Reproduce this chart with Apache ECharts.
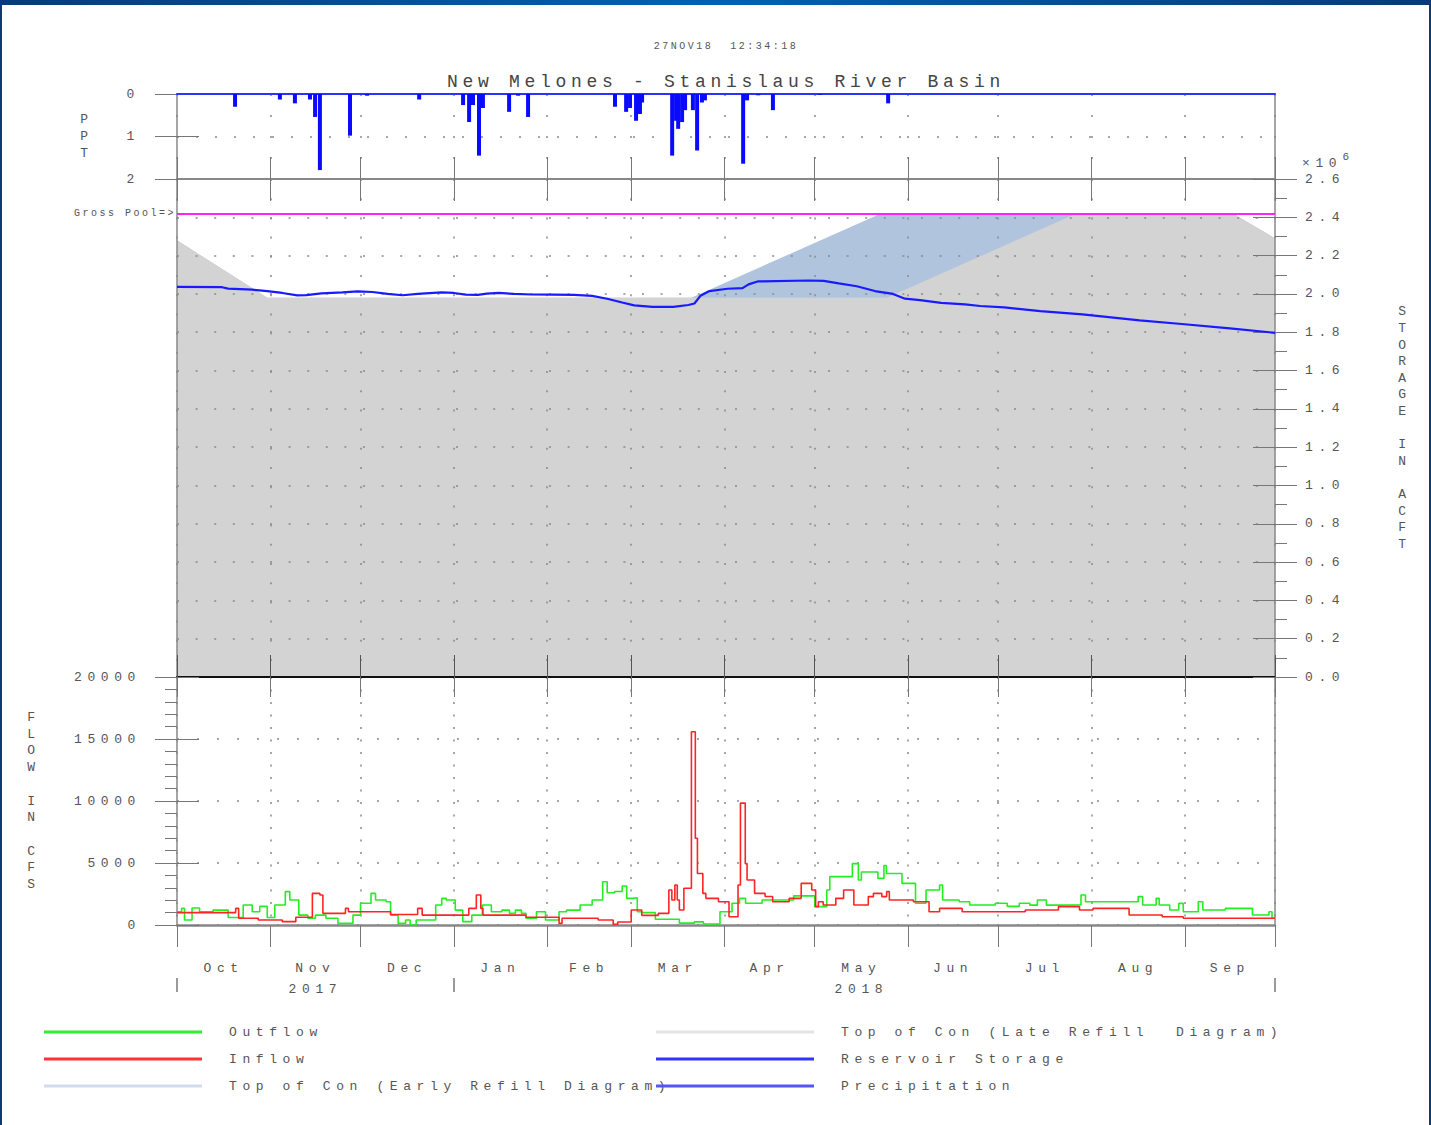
<!DOCTYPE html>
<html><head><meta charset="utf-8">
<script src="https://cdn.jsdelivr.net/npm/echarts@6/dist/echarts.min.js"></script>
<style>
html,body{margin:0;padding:0;background:#fff;}
#chart{position:absolute;left:0;top:0;width:1431px;height:1125px;}
#topbar{position:absolute;left:0;top:0;width:1431px;height:5px;background:linear-gradient(90deg,#0a3a78,#0062b4 50%,#0a3a78);}
#lb{position:absolute;left:0;top:0;width:2px;height:1125px;background:#0a3a78;}
#rb{position:absolute;right:0;top:0;width:2px;height:1125px;background:#0a3a78;}
</style></head><body>
<div id="chart"></div><div id="topbar"></div><div id="lb"></div><div id="rb"></div>
<script>
// ---- categories / ticks ----
const monthStarts = [0, 31, 61, 92, 123, 151, 182, 212, 243, 273, 304, 335, 365];
const monthNames = ['Oct', 'Nov', 'Dec', 'Jan', 'Feb', 'Mar', 'Apr', 'May', 'Jun', 'Jul', 'Aug', 'Sep'];
const monthMids = [15.5, 46, 76.5, 107.5, 137, 166.5, 197, 227.5, 258, 288.5, 319.5, 350];
const yearNames = { 'Nov': '2017', 'May': '2018' };
const yearTicks = [0, 92, 365];
const grossPool = 2420000;

// ---- series values: [day since 1 Oct 2017, value] ----
const storage = [[0,2037000],[15,2035000],[17,2028000],[25,2022000],[30,2015000],[35,2005000],[40,1992000],[43,1994000],[48,2003000],[55,2008000],[60,2013000],[65,2010000],[70,2000000],[75,1993000],[80,2000000],[88,2008000],[92,2005000],[96,1996000],[100,1995000],[103,2002000],[107,2005000],[112,2000000],[118,1997000],[125,1996000],[132,1995000],[138,1990000],[143,1975000],[148,1955000],[152,1940000],[158,1932000],[165,1932000],[170,1942000],[172,1950000],[174,1990000],[177,2015000],[183,2027000],[188,2030000],[190,2050000],[193,2065000],[210,2070000],[215,2068000],[220,2055000],[226,2040000],[232,2015000],[238,2000000],[242,1975000],[247,1968000],[254,1953000],[262,1945000],[267,1937000],[275,1930000],[287,1910000],[301,1893000],[320,1862000],[334,1843000],[350,1820000],[365,1797000]];
const earlyRefill = [[0,2280000],[30,1980000],[171,1980000],[234,2420000],[351,2420000],[365,2290000]];
const lateRefill = [[0,2280000],[30,1980000],[236,1980000],[299,2420000],[351,2420000],[365,2290000]];
const precip = [[19.3,0.30],[34.2,0.13],[39.2,0.22],[44.2,0.13],[45.9,0.54],[47.5,1.79],[57.5,0.98],[63.2,0.04],[80.5,0.13],[95.1,0.26],[97.1,0.66],[98.4,0.26],[100.4,1.45],[101.7,0.33],[110.4,0.42],[113.4,0.04],[116.7,0.54],[145.6,0.30],[149.3,0.42],[150.6,0.33],[152.6,0.63],[153.9,0.47],[154.6,0.2],[164.6,1.45],[165.9,0.63],[166.6,0.82],[167.9,0.66],[168.9,0.38],[171.5,0.38],[172.9,1.33],[174.5,0.2],[175.5,0.15],[188.2,1.64],[189.5,0.15],[193.2,0.03],[198.1,0.38],[213.8,0.02],[236.4,0.22]];
const outflow = [[0,1070],[1.5,1340],[2.5,400],[5,1370],[7.5,1070],[12,1200],[17,600],[22,1610],[25,1070],[27.5,1500],[30,600],[32.5,1610],[36,2690],[37.5,2020],[40.5,800],[43.5,540],[46,800],[49.5,540],[53.5,134],[58.5,800],[61,1750],[64.5,2550],[66,2020],[69.5,1880],[71,800],[73.5,134],[76,400],[77.5,0],[79.5,400],[86,1610],[88,2150],[89.5,2020],[92.5,1200],[95,270],[98,800],[101.5,1610],[104.5,1070],[108,1200],[110.5,940],[112.5,1200],[114.5,940],[116,540],[119.5,1070],[122.5,400],[127,1070],[129.5,1200],[134,1610],[138,2020],[141.5,3490],[143,2600],[145.5,2700],[148,3140],[149.5,2150],[151.5,2200],[153,1070],[154.5,1000],[159,460],[167,150],[172,250],[175,80],[180.5,1070],[184.5,1750],[187,2150],[189,1750],[194.5,2020],[205,2350],[212,1480],[216,2820],[217,3900],[224.5,4950],[226.5,3630],[227.5,4280],[233,3760],[235,4800],[235.8,4150],[241,3360],[245.5,1750],[249,2820],[253.5,3230],[254.5,2020],[260,1880],[263.5,1610],[272,1750],[276,1500],[280,1750],[283.5,1600],[286,2020],[289,1600],[291,1610],[300.5,2420],[302,1880],[319.5,2290],[321,1610],[325.5,2150],[326.5,1610],[330,1210],[333,1740],[334.5,1070],[339.5,1880],[341,1210],[348.5,1340],[357.5,810],[363,1070],[364,540],[365,540]];
const inflow = [[0,1000],[19.5,1340],[20.5,540],[27,400],[35,270],[39.5,620],[45,2550],[47.5,2420],[48.5,940],[56,1340],[57,1070],[71,850],[80,1340],[81.5,800],[97,1340],[99.5,2420],[101,1340],[101.7,800],[116,620],[127,134],[128,540],[140,400],[145,50],[146.5,240],[151,1210],[154.5,780],[160,940],[163.5,2820],[164.5,2020],[165.5,3230],[166.3,2020],[167,1210],[168.5,2960],[171,15580],[172.3,7000],[173,4150],[174.8,2550],[175.8,2150],[180,1880],[183.5,670],[186.5,3230],[187.3,9830],[188.9,4950],[189.5,3630],[192,2550],[195.5,2300],[198,1880],[203.5,2150],[207.5,3360],[211,2820],[212.3,1480],[213.2,1880],[214.8,1610],[219,2150],[221.6,2820],[225,1610],[229.8,2290],[231.5,2550],[234.3,2290],[235.9,2690],[236.8,2020],[244.8,1880],[250,1070],[253.5,1340],[261,1070],[282,1210],[293,1480],[300,1210],[304.5,1340],[316.5,810],[327.5,670],[334.5,540],[365,540]];

const FONT = 'Liberation Mono';
const TXT = '#555';
const AXZ = 2.5;
const dot = (gap) => ({ color: '#8a8a8a', width: 1.5, type: [2, gap] });
const baseX = (extra) => Object.assign({
  type: 'value', min: 0, max: 365, z: AXZ,
  axisLabel: { show: false }, axisTick: { show: false, customValues: monthStarts },
  splitLine: { show: false }, axisLine: { show: false, onZero: false }
}, extra);
const line = (color, width, extra) => Object.assign({ show: true, onZero: false, lineStyle: { color: color, width: width } }, extra || {});

const chart = echarts.init(document.getElementById('chart'), null, { renderer: 'svg' });
const option = {
  animation: false,
  backgroundColor: '#fff',
  textStyle: { fontFamily: FONT },
  title: [
    { text: '27NOV18  12:34:18', left: 721, top: 36, textAlign: 'center',
      textStyle: { fontSize: 10, color: TXT, fontWeight: 'normal', fontFamily: FONT } },
    { text: 'New Melones - Stanislaus River Basin', left: 721, top: 68, textAlign: 'center',
      textStyle: { fontSize: 18, color: '#444', fontWeight: 'normal', fontFamily: FONT } },
    { text: '{a|×10}{b|6}', left: 1297, top: 145,
      textStyle: { fontFamily: FONT, fontWeight: 'normal',
        rich: { a: { fontSize: 13, color: TXT, padding: [7, 0, 0, 0], fontFamily: FONT },
                b: { fontSize: 11, color: TXT, padding: [0, 0, 7, 17], fontFamily: FONT } } } }
  ],
  grid: [
    { left: 177, right: 156, top: 94, height: 85, outerBoundsMode: 'none' },
    { left: 177, right: 156, top: 179, height: 498, outerBoundsMode: 'none' },
    { left: 177, right: 156, top: 677, height: 248, outerBoundsMode: 'none' }
  ],
  xAxis: [
    baseX({ gridIndex: 0, position: 'bottom',
      axisLine: line('#888', 2),
      axisTick: { show: true, inside: true, length: 22, customValues: monthStarts, lineStyle: { color: '#777', width: 1 } },
      splitLine: { show: true, lineStyle: dot(19) } }),
    baseX({ gridIndex: 0, position: 'top', z: 3,
      axisLine: line('#3030ff', 2) }),
    baseX({ gridIndex: 1, position: 'top',
      axisTick: { show: true, inside: true, length: 22, customValues: monthStarts, lineStyle: { color: '#777', width: 1 } },
      splitLine: { show: true, lineStyle: dot(17.2) } }),
    baseX({ gridIndex: 1, position: 'bottom',
      axisLine: line('#111', 2),
      axisTick: { show: true, inside: true, length: 22, customValues: monthStarts, lineStyle: { color: '#555', width: 1 } } }),
    baseX({ gridIndex: 2, position: 'top',
      axisTick: { show: true, inside: true, length: 20, customValues: monthStarts, lineStyle: { color: '#777', width: 1 } } }),
    baseX({ gridIndex: 2, position: 'bottom',
      axisLine: line('#888', 2.5),
      axisTick: { show: true, inside: false, length: 22, customValues: monthStarts, lineStyle: { color: '#777', width: 1 } },
      splitLine: { show: true, lineStyle: dot(10.5) },
      axisLabel: { show: true, customValues: monthMids, margin: 33, fontSize: 13, lineHeight: 21, color: TXT, fontFamily: FONT,
        formatter: (v) => { const m = monthNames[monthMids.indexOf(v)] || ''; return yearNames[m] ? m + '\n' + yearNames[m] : m; } } }),
    baseX({ gridIndex: 2, position: 'bottom', offset: 53,
      axisTick: { show: true, inside: false, length: 14, customValues: yearTicks, lineStyle: { color: '#777', width: 1.5 } } })
  ],
  yAxis: [
    { gridIndex: 0, type: 'value', position: 'left', inverse: true, min: 0, max: 2, interval: 1, z: AXZ,
      axisLine: line('#888', 1.5),
      axisTick: { show: true, length: 22, lineStyle: { color: '#777' } },
      axisLabel: { show: true, margin: 37, fontSize: 13, color: TXT, fontFamily: FONT },
      splitLine: { show: true, lineStyle: dot(17) },
      name: 'P\nP\nT', nameLocation: 'middle', nameGap: 90, nameRotate: 0,
      nameTextStyle: { fontSize: 13, lineHeight: 17, color: TXT, align: 'center', verticalAlign: 'middle', fontFamily: FONT } },
    { gridIndex: 0, type: 'value', position: 'left', inverse: true, min: 0, max: 2, interval: 1, z: AXZ,
      axisLine: { show: false, onZero: false }, axisLabel: { show: false }, splitLine: { show: false },
      axisTick: { show: true, inside: true, length: 22, customValues: [1], lineStyle: { color: '#777' } } },
    { gridIndex: 0, type: 'value', position: 'right', min: 0, max: 2, z: AXZ,
      axisLine: line('#888', 1.5),
      axisTick: { show: false }, axisLabel: { show: false }, splitLine: { show: false } },
    { gridIndex: 1, type: 'value', position: 'right', min: 0, max: 2600000, interval: 200000, z: AXZ,
      axisLine: line('#888', 1.5),
      axisTick: { show: true, length: 22, lineStyle: { color: '#777' } },
      minorTick: { show: true, splitNumber: 2, length: 12, lineStyle: { color: '#777' } },
      axisLabel: { show: true, margin: 30, fontSize: 13, color: TXT, fontFamily: FONT,
        formatter: (v) => (v / 1e6).toFixed(1) },
      splitLine: { show: true, lineStyle: dot(16.6) } },
    { gridIndex: 1, type: 'value', position: 'right', min: 0, max: 2600000, interval: 200000, z: AXZ,
      axisLine: { show: false, onZero: false }, axisLabel: { show: false }, splitLine: { show: false },
      axisTick: { show: true, inside: true, length: 22, lineStyle: { color: '#777' } },
      name: 'S\nT\nO\nR\nA\nG\nE\n\nI\nN\n\nA\nC\nF\nT', nameLocation: 'middle', nameGap: 130, nameRotate: 0,
      nameTextStyle: { fontSize: 13, lineHeight: 16.6, color: TXT, align: 'center', verticalAlign: 'middle', fontFamily: FONT } },
    { gridIndex: 1, type: 'value', position: 'left', min: 0, max: 2600000, z: AXZ,
      axisLine: line('#888', 1.5),
      axisTick: { show: false }, axisLabel: { show: false }, splitLine: { show: false } },
    { gridIndex: 2, type: 'value', position: 'left', min: 0, max: 20000, interval: 5000, z: AXZ,
      axisLine: line('#888', 1.5),
      axisTick: { show: true, length: 22, lineStyle: { color: '#777' } },
      minorTick: { show: true, splitNumber: 5, length: 12, lineStyle: { color: '#777' } },
      axisLabel: { show: true, margin: 36, fontSize: 13, color: TXT, fontFamily: FONT, formatter: (v) => String(v) },
      splitLine: { show: true, lineStyle: dot(18) },
      name: 'F\nL\nO\nW\n\nI\nN\n\nC\nF\nS', nameLocation: 'middle', nameGap: 143, nameRotate: 0,
      nameTextStyle: { fontSize: 13, lineHeight: 16.7, color: TXT, align: 'center', verticalAlign: 'middle', fontFamily: FONT } },
    { gridIndex: 2, type: 'value', position: 'left', min: 0, max: 20000, interval: 5000, z: AXZ,
      axisLine: { show: false, onZero: false }, axisLabel: { show: false }, splitLine: { show: false },
      axisTick: { show: true, inside: true, length: 22, lineStyle: { color: '#777' } } },
    { gridIndex: 2, type: 'value', position: 'right', min: 0, max: 20000, z: AXZ,
      axisLine: line('#888', 1.5),
      axisTick: { show: false }, axisLabel: { show: false }, splitLine: { show: false } }
  ],
  legend: [
    { orient: 'vertical', left: 39, top: 1020, itemWidth: 158, itemHeight: 3, itemGap: 13, icon: 'rect',
      selectedMode: false,
      textStyle: { fontSize: 13, color: TXT, lineHeight: 14, padding: [0, 0, 0, 22], fontFamily: FONT },
      data: [
        { name: 'Outflow', itemStyle: { color: '#33ee33' } },
        { name: 'Inflow', itemStyle: { color: '#ff3333' } },
        { name: 'Top of Con (Early Refill Diagram)', itemStyle: { color: '#d2dcec' } }
      ] },
    { orient: 'vertical', left: 651, top: 1020, itemWidth: 158, itemHeight: 3, itemGap: 13, icon: 'rect',
      selectedMode: false,
      textStyle: { fontSize: 13, color: TXT, lineHeight: 14, padding: [0, 0, 0, 22], fontFamily: FONT },
      data: [
        { name: 'Top of Con (Late Refill  Diagram)', itemStyle: { color: '#e4e4e4' } },
        { name: 'Reservoir Storage', itemStyle: { color: '#3333ff' } },
        { name: 'Precipitation', itemStyle: { color: '#5555ff' } }
      ] }
  ],
  series: [
    { name: 'Top of Con (Early Refill Diagram)', type: 'line', xAxisIndex: 2, yAxisIndex: 3,
      data: earlyRefill, showSymbol: false, silent: true, z: 1,
      itemStyle: { color: '#b0c4de' }, lineStyle: { width: 0, color: '#b0c4de' },
      areaStyle: { color: '#b0c4de', opacity: 1 } },
    { name: 'Top of Con (Late Refill  Diagram)', type: 'line', xAxisIndex: 2, yAxisIndex: 3,
      data: lateRefill, showSymbol: false, silent: true, z: 1.5,
      itemStyle: { color: '#d3d3d3' }, lineStyle: { width: 0, color: '#d3d3d3' },
      areaStyle: { color: '#d3d3d3', opacity: 1 } },
    { name: 'Reservoir Storage', type: 'line', xAxisIndex: 2, yAxisIndex: 3,
      data: storage, showSymbol: false, silent: true, z: 4,
      itemStyle: { color: '#1a1aff' }, lineStyle: { width: 2.2, color: '#1a1aff' },
      markLine: { silent: true, symbol: 'none', animation: false,
        lineStyle: { color: '#ff22ff', width: 2, type: 'solid' },
        label: { show: true, position: 'start', formatter: 'Gross Pool=>', fontSize: 10, color: TXT, distance: 1, fontFamily: FONT },
        data: [{ yAxis: grossPool }] } },
    { name: 'Precipitation', type: 'bar', xAxisIndex: 0, yAxisIndex: 0,
      data: precip, barWidth: 4, silent: true, z: 4, itemStyle: { color: '#0a0aff' } },
    { name: 'Outflow', type: 'line', step: 'end', xAxisIndex: 5, yAxisIndex: 6,
      data: outflow, showSymbol: false, silent: true, z: 4,
      itemStyle: { color: '#22ee22' }, lineStyle: { width: 1.6, color: '#22ee22' } },
    { name: 'Inflow', type: 'line', step: 'end', xAxisIndex: 5, yAxisIndex: 6,
      data: inflow, showSymbol: false, silent: true, z: 5,
      itemStyle: { color: '#ff2424' }, lineStyle: { width: 1.6, color: '#ff2424' } }
  ]
};
chart.setOption(option);

function spaceText() {
  document.querySelectorAll('#chart svg text').forEach(t => {
    const fs = parseFloat(getComputedStyle(t).fontSize) || 12;
    let ls = 5.6;
    if (fs >= 17) ls = 4.7; else if (fs <= 10.5) ls = 2.5;
    t.style.letterSpacing = ls + 'px';
  });
}
chart.on('finished', spaceText);
let n = 0;
const iv = setInterval(() => { spaceText(); if (++n > 30) clearInterval(iv); }, 60);
</script>
</body></html>
